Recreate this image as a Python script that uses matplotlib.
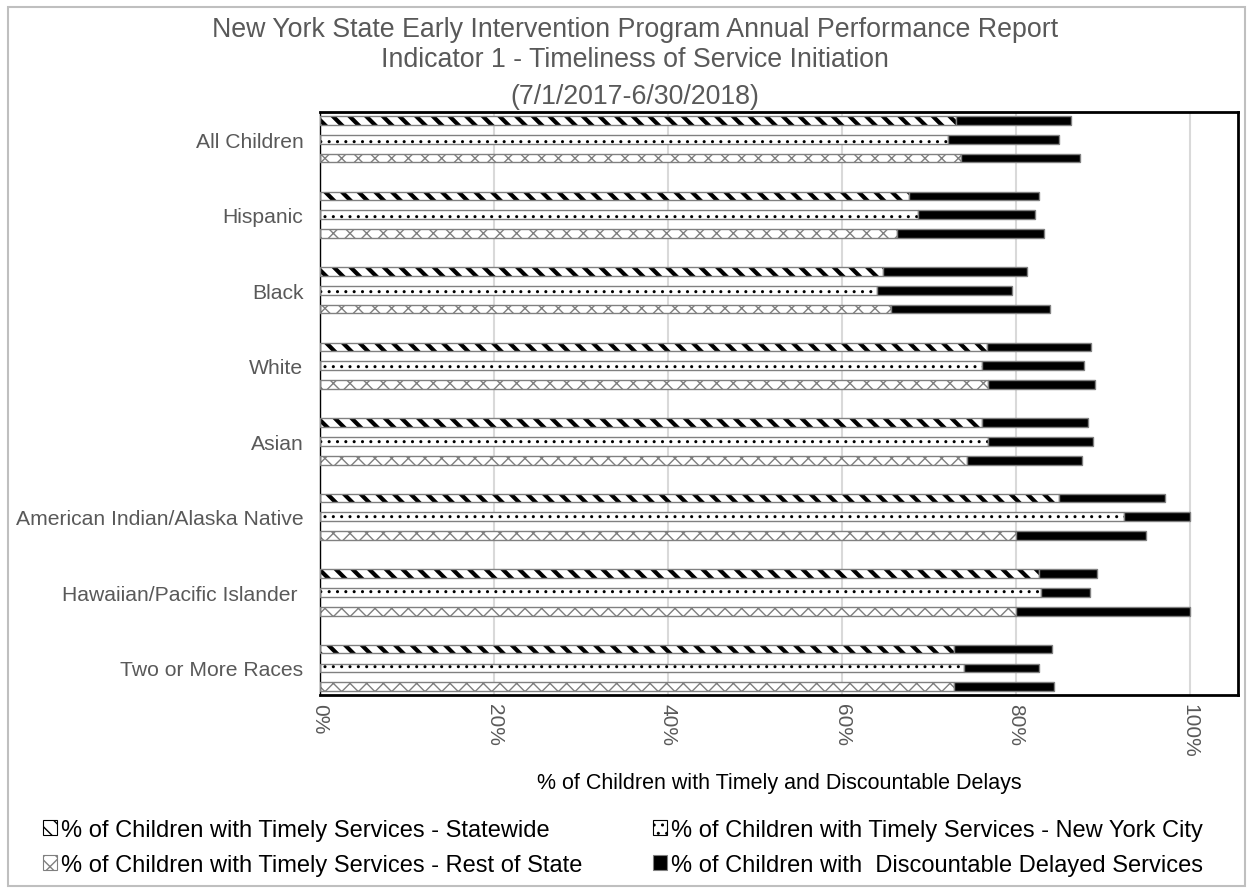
import numpy as np
import matplotlib.pyplot as plt
from matplotlib.patches import Patch, Rectangle
from matplotlib.ticker import PercentFormatter

plt.rcParams['font.family'] = ['Liberation Sans', 'DejaVu Sans']

categories = ["All Children", "Hispanic", "Black", "White", "Asian",
              "American Indian/Alaska Native", "Hawaiian/Pacific Islander ",
              "Two or More Races"]

# share of children with timely services
timely_statewide = [0.731, 0.677, 0.647, 0.766, 0.761, 0.849, 0.826, 0.729]
timely_nyc = [0.722, 0.687, 0.640, 0.761, 0.768, 0.924, 0.829, 0.740]
timely_rest = [0.737, 0.663, 0.656, 0.768, 0.744, 0.800, 0.800, 0.729]

# extra share with discountable delays (stacked on top of timely)
delayed_statewide = [0.132, 0.149, 0.165, 0.120, 0.122, 0.122, 0.067, 0.112]
delayed_nyc = [0.127, 0.135, 0.155, 0.117, 0.120, 0.076, 0.056, 0.086]
delayed_rest = [0.137, 0.169, 0.183, 0.123, 0.132, 0.149, 0.200, 0.115]

legend_labels = ["% of Children with Timely Services - Statewide",
                 "% of Children with Timely Services - New York City",
                 "% of Children with Timely Services - Rest of State",
                 "% of Children with  Discountable Delayed Services"]

title_lines = ["New York State Early Intervention Program Annual Performance Report",
               "Indicator 1 - Timeliness of Service Initiation",
               "(7/1/2017-6/30/2018)"]

grey = '#595959'
y = np.arange(len(categories))
bar_h = 0.115
offsets = [-0.25, 0.0, 0.25]
# hatch, hatch colour, hatch line width
styles = [('\\\\', 'black', 3.0), ('..', 'black', 1.0), ('xx', '#7f7f7f', 1.0)]
series = [(timely_statewide, delayed_statewide),
          (timely_nyc, delayed_nyc),
          (timely_rest, delayed_rest)]


def hatched_patch(hatch, hcol, hlw):
    plt.rcParams['hatch.linewidth'] = hlw
    p = Patch(facecolor='white', hatch=hatch, edgecolor=hcol, linewidth=0.8)
    return p


fig = plt.figure(figsize=(12.53, 8.95), dpi=100)
ax = fig.add_axes([0.2554, 0.2223, 0.7326, 0.6514])

for (timely, delayed), (hatch, hcol, hlw), off in zip(series, styles, offsets):
    plt.rcParams['hatch.linewidth'] = hlw
    bars = ax.barh(y + off, timely, height=bar_h, color='white', hatch=hatch,
                   edgecolor=hcol, linewidth=0, zorder=2)
    for b in bars:
        if hasattr(b, 'set_hatch_linewidth'):
            b.set_hatch_linewidth(hlw)
    ax.barh(y + off, timely, height=bar_h, fill=False, edgecolor='#808080',
            linewidth=1, zorder=3)
    ax.barh(y + off, delayed, left=timely, height=bar_h, color='black',
            edgecolor='#808080', linewidth=1, zorder=3)

ax.set_xlim(0, 1.055)
ax.set_ylim(7.36, -0.36)
ax.set_xticks(np.arange(0, 1.01, 0.2))
ax.xaxis.set_major_formatter(PercentFormatter(1.0, decimals=0))
ax.set_yticks(y)
ax.set_yticklabels(categories)
ax.tick_params(axis='x', labelrotation=-90, labelsize=15, labelcolor=grey, length=0, pad=6)
ax.tick_params(axis='y', labelsize=15.2, labelcolor=grey, length=0, pad=12)
ax.grid(axis='x', color='#d9d9d9', linewidth=1.5, zorder=0)
ax.set_axisbelow(True)
for side in ['top', 'bottom', 'right']:
    ax.spines[side].set_linewidth(2)
ax.spines['left'].set_linewidth(1)
ax.set_xlabel("% of Children with Timely and Discountable Delays", fontsize=15.5,
              color='black', labelpad=11)

for line, base in zip(title_lines, [37, 67, 104]):
    fig.text(0.507, 1 - base / 895, line, ha='center', va='baseline',
             fontsize=19.3, color=grey)

handles = [hatched_patch(h, c, lw) for h, c, lw in styles]
handles.append(Patch(facecolor='black', edgecolor='#808080', linewidth=0.8))
order = [0, 2, 1, 3]
fig.legend([handles[i] for i in order], [legend_labels[i] for i in order],
           loc='center', bbox_to_anchor=(0.497, 0.052), ncol=2, frameon=False,
           fontsize=17, handlelength=0.6, handleheight=0.6, handletextpad=0.15,
           columnspacing=3.0, labelspacing=0.55, borderpad=0)

fig.patches.append(Rectangle((8 / 1253, 8 / 895), 1 - 16 / 1253, 1 - 16 / 895,
                             transform=fig.transFigure, fill=False,
                             edgecolor='#bfbfbf', linewidth=1.5))

fig.savefig('out.png', dpi=100)
